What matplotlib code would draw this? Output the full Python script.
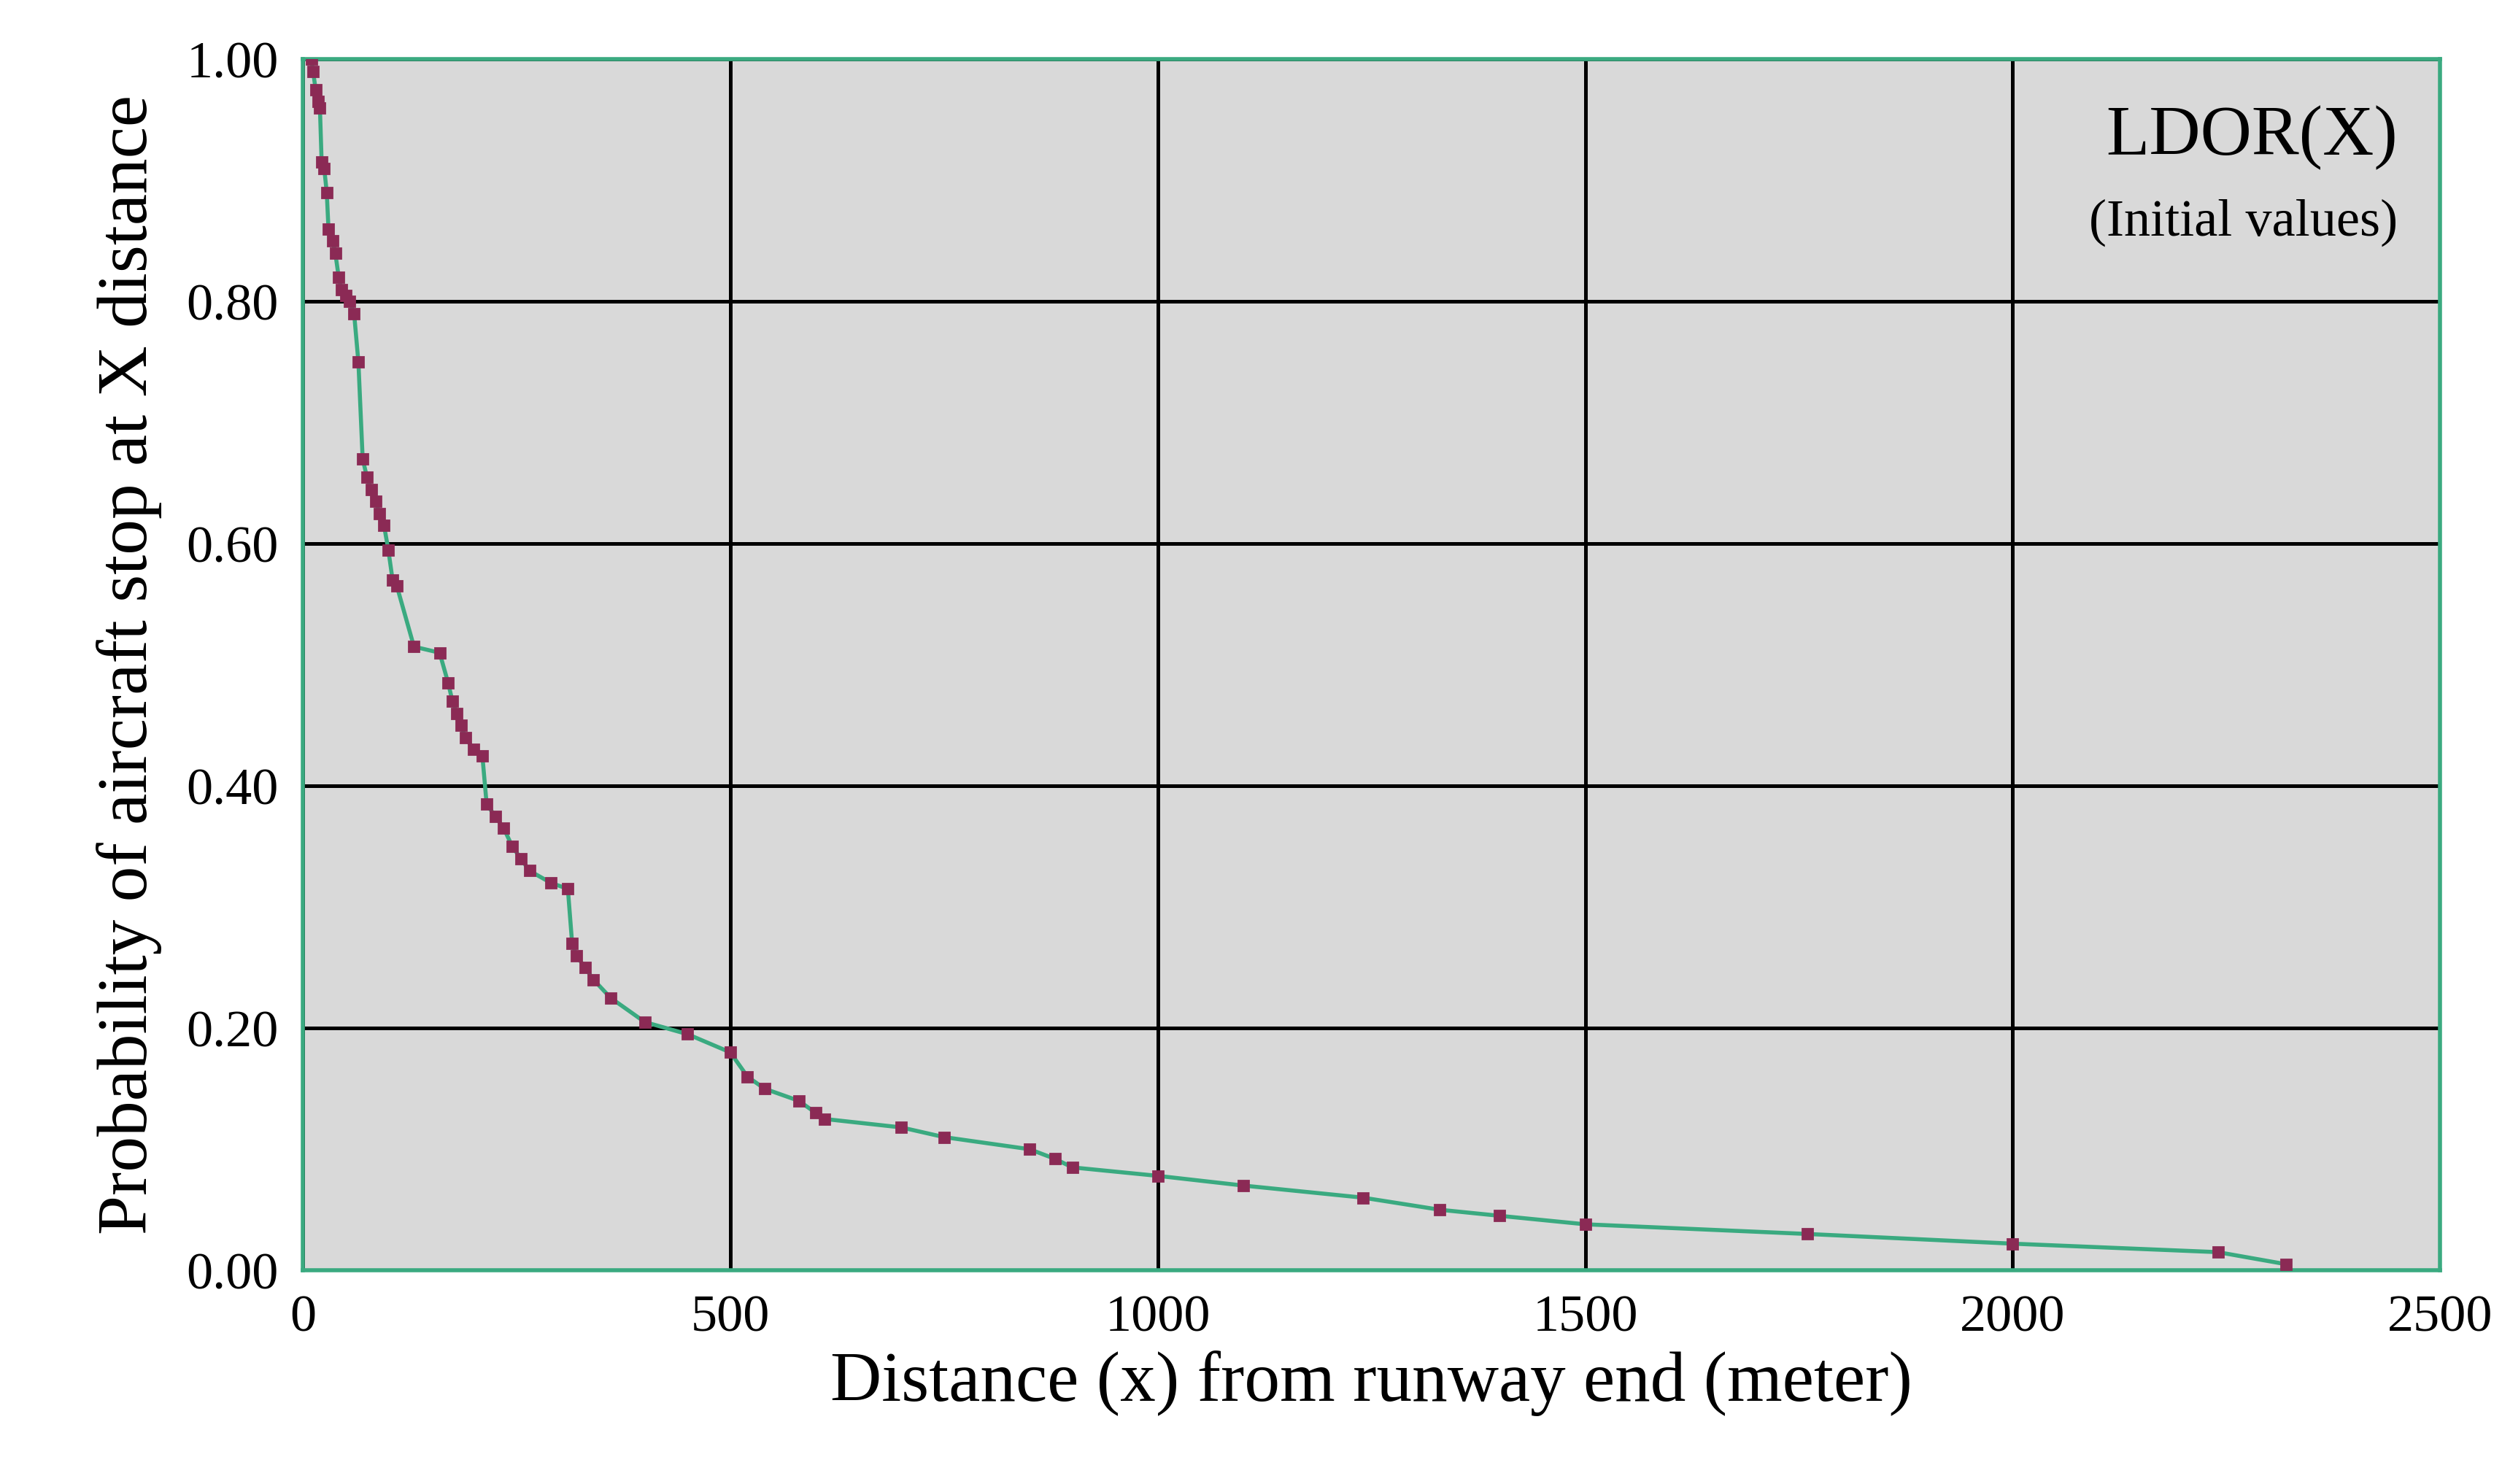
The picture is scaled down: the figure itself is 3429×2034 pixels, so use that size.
import matplotlib
matplotlib.use("Agg")
import matplotlib.pyplot as plt

distance = [10, 12, 15, 18, 20, 22, 25, 28, 30, 35, 38, 42, 45, 50, 55, 60, 65, 70, 75, 80,
            85, 90, 95, 100, 105, 110, 130, 160, 170, 175, 180, 185, 190, 200, 210, 215, 225,
            235, 245, 255, 265, 290, 310, 315, 320, 330, 340, 360, 400, 450, 500, 520, 540,
            580, 600, 610, 700, 750, 850, 880, 900, 1000, 1100, 1240, 1330, 1400, 1500, 1760,
            2000, 2240, 2320]
probability = [1.0, 0.99, 0.975, 0.965, 0.96, 0.915, 0.91, 0.89, 0.86, 0.85, 0.84, 0.82, 0.81,
               0.805, 0.8, 0.79, 0.75, 0.67, 0.655, 0.645, 0.635, 0.625, 0.615, 0.595, 0.57,
               0.565, 0.515, 0.51, 0.485, 0.47, 0.46, 0.45, 0.44, 0.43, 0.425, 0.385, 0.375,
               0.365, 0.35, 0.34, 0.33, 0.32, 0.315, 0.27, 0.26, 0.25, 0.24, 0.225, 0.205,
               0.195, 0.18, 0.16, 0.15, 0.14, 0.13, 0.125, 0.118, 0.11, 0.1, 0.092, 0.085,
               0.078, 0.07, 0.06, 0.05, 0.045, 0.038, 0.03, 0.022, 0.015, 0.005]
xticks = [0, 500, 1000, 1500, 2000, 2500]
yticks = [0.0, 0.2, 0.4, 0.6, 0.8, 1.0]

plt.rcParams['font.family'] = ['Liberation Serif', 'DejaVu Serif']
fig = plt.figure(figsize=(17.15, 10.17), dpi=200)
ax = fig.add_axes([0.121, 0.144, 0.854, 0.816])
ax.set_facecolor('#d9d9d9')
ax.plot(distance, probability, color='#3aaa80', lw=2, marker='s', ms=5,
        mfc='#8b2a55', mec='#8b2a55', zorder=3)
ax.set_xlim(0, 2500)
ax.set_ylim(0, 1.0)
ax.set_xticks(xticks)
ax.set_yticks(yticks)
ax.set_yticklabels([f"{v:.2f}" for v in yticks])
ax.grid(True, color='black', lw=1.8)
ax.set_axisbelow(True)
for s in ax.spines.values():
    s.set_color('#3aaa80')
    s.set_linewidth(2)
ax.tick_params(length=0, labelsize=26, pad=12)
ax.set_xlabel('Distance (x) from runway end (meter)', fontsize=35, labelpad=4)
ax.set_ylabel('Probability of aircraft stop at X distance', fontsize=35, labelpad=12)
ax.text(0.98, 0.935, 'LDOR(X)', transform=ax.transAxes, ha='right', va='center', fontsize=35)
ax.text(0.98, 0.865, '(Initial values)', transform=ax.transAxes, ha='right', va='center', fontsize=26)
fig.savefig('out.png', dpi=200, facecolor='white')
